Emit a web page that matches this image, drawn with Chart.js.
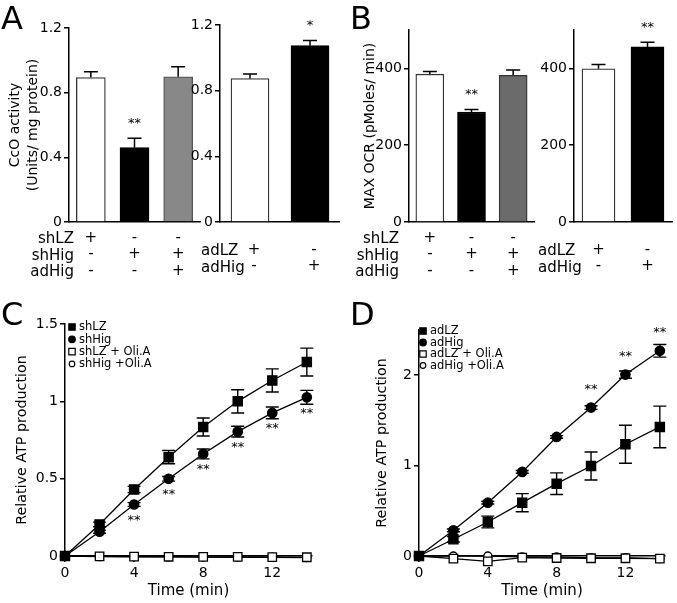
<!DOCTYPE html>
<html>
<head>
<meta charset="utf-8">
<script src="https://cdn.jsdelivr.net/npm/chart.js@4.4.0/dist/chart.umd.min.js"></script>
<style>
  body { margin: 0; background: #fff; }
  #fig { position: relative; width: 677px; height: 603px; overflow: hidden;
         font-family: 'DejaVu Sans', sans-serif; color: #000; }
  canvas { position: absolute; }
  .panel { position: absolute; font-size: 32px; line-height: 32px; }
  .row { position: absolute; font-size: 15px; line-height: 16px; white-space: nowrap; }
</style>
</head>
<body>
<div id="fig"></div>
<script>
// ---- data: panel A (CcO activity) ----
const shRows = ['shLZ', 'shHig', 'adHig'];
const shCols = [['+', '-', '-'], ['-', '+', '-'], ['-', '+', '+']];
const adRows = ['adLZ', 'adHig'];
const adCols = [['+', '-'], ['-', '+']];

const ccoSh = [0.894, 0.46, 0.898];
const ccoShErr = [0.035, 0.058, 0.062];
const ccoShSig = ['', '**', ''];
const ccoAd = [0.874, 1.074];
const ccoAdErr = [0.028, 0.031];
const ccoAdSig = ['', '*'];

// ---- panel B (max OCR) ----
const ocrSh = [385, 286, 382];
const ocrShErr = [7, 7, 14];
const ocrShSig = ['', '**', ''];
const ocrAd = [399, 456];
const ocrAdErr = [11, 12];
const ocrAdSig = ['', '**'];

// ---- panels C / D (relative ATP production) ----
const timeMin = [0, 2, 4, 6, 8, 10, 12, 14];

const shLZ = [0, 0.204, 0.43, 0.639, 0.834, 1.0, 1.135, 1.254];
const shLZErr = [0, 0.015, 0.02, 0.043, 0.058, 0.075, 0.075, 0.09];
const shHig = [0, 0.157, 0.333, 0.499, 0.66, 0.804, 0.925, 1.026];
const shHigErr = [0, 0.01, 0.012, 0.015, 0.032, 0.035, 0.038, 0.045];
const shHigSig = ['', '', '**', '**', '**', '**', '**', '**'];
const shLZOli = [0, -0.003, -0.004, -0.005, -0.006, -0.006, -0.007, -0.008];
const shHigOli = [0, -0.004, -0.005, -0.006, -0.007, -0.008, -0.008, -0.01];

const adLZ = [0, 0.185, 0.376, 0.59, 0.80, 0.996, 1.236, 1.428];
const adLZErr = [0, 0.03, 0.065, 0.1, 0.12, 0.155, 0.21, 0.23];
const adHig = [0, 0.284, 0.59, 0.93, 1.317, 1.642, 2.007, 2.27];
const adHigErr = [0, 0.015, 0.015, 0.015, 0.015, 0.02, 0.04, 0.07];
const adHigSig = ['', '', '', '', '', '**', '**', '**'];
const adLZOli = [0, -0.03, -0.06, -0.018, -0.022, -0.025, -0.025, -0.03];
const adHigOli = [0, 0, 0, -0.01, -0.01, -0.02, -0.02, -0.03];

const FONT = "'DejaVu Sans', sans-serif";
Chart.defaults.font.family = FONT;
Chart.defaults.color = '#000';

const fig = document.getElementById('fig');

function makeCanvas(box) {
    const c = document.createElement('canvas');
    c.width = box.w;
    c.height = box.h;
    c.style.left = box.x + 'px';
    c.style.top = box.y + 'px';
    fig.appendChild(c);
    return c;
}

// work out padding / axis sizes so the plot area lands where it should
function frame(box, area) {
    return {
        padding: { left: 0, top: area.t - box.y, right: box.x + box.w - area.r, bottom: 0 },
        yW: area.l - box.x,
        xH: box.y + box.h - area.b
    };
}

function addText(cls, text, css) {
    const d = document.createElement('div');
    d.className = cls;
    d.textContent = text;
    Object.assign(d.style, css);
    fig.appendChild(d);
}

// error bars (upper only) and significance marks on bar charts
const barExtras = {
    id: 'barExtras',
    afterDatasetsDraw(chart) {
        const { ctx } = chart;
        const ds = chart.data.datasets[0];
        const y = chart.scales.y;
        ctx.save();
        ctx.strokeStyle = '#000';
        ctx.lineWidth = 1.5;
        ctx.fillStyle = '#000';
        ctx.font = '13px ' + FONT;
        ctx.textAlign = 'center';
        ctx.textBaseline = 'middle';
        chart.getDatasetMeta(0).data.forEach((bar, i) => {
            const top = y.getPixelForValue(ds.data[i] + ds.errors[i]);
            ctx.beginPath();
            ctx.moveTo(bar.x, bar.y);
            ctx.lineTo(bar.x, top);
            ctx.moveTo(bar.x - 7, top);
            ctx.lineTo(bar.x + 7, top);
            ctx.stroke();
            if (ds.marks[i]) ctx.fillText(ds.marks[i], bar.x, top - 15);
        });
        ctx.restore();
    }
};

// error bars, significance marks and the inset legend on line charts
const lineExtras = {
    id: 'lineExtras',
    beforeDatasetsDraw(chart) {
        const { ctx } = chart;
        const y = chart.scales.y;
        ctx.save();
        ctx.strokeStyle = '#000';
        ctx.lineWidth = 1.4;
        chart.data.datasets.forEach((ds, di) => {
            if (!ds.errors) return;
            chart.getDatasetMeta(di).data.forEach((pt, i) => {
                const e = ds.errors[i];
                if (!e) return;
                const v = ds.data[i].y;
                const hi = y.getPixelForValue(v + e);
                const lo = y.getPixelForValue(v - e);
                ctx.beginPath();
                ctx.moveTo(pt.x, lo); ctx.lineTo(pt.x, hi);
                ctx.moveTo(pt.x - 6.5, hi); ctx.lineTo(pt.x + 6.5, hi);
                ctx.moveTo(pt.x - 6.5, lo); ctx.lineTo(pt.x + 6.5, lo);
                ctx.stroke();
            });
        });
        ctx.restore();
    },
    afterDatasetsDraw(chart, args, opts) {
        const { ctx, chartArea } = chart;
        ctx.save();
        ctx.fillStyle = '#000';
        ctx.font = '13px ' + FONT;
        ctx.textAlign = 'center';
        ctx.textBaseline = 'middle';
        chart.data.datasets.forEach((ds, di) => {
            if (!ds.marks) return;
            chart.getDatasetMeta(di).data.forEach((pt, i) => {
                if (ds.marks[i]) ctx.fillText(ds.marks[i], pt.x, pt.y + opts.markOffset);
            });
        });

        // legend
        ctx.font = '11.5px ' + FONT;
        ctx.textAlign = 'left';
        ctx.lineWidth = 1.2;
        ctx.strokeStyle = '#000';
        chart.data.datasets.forEach((ds, i) => {
            const mx = chartArea.left + opts.legendX;
            const my = chartArea.top + opts.legendY + i * opts.legendRow;
            ctx.fillStyle = ds.pointBackgroundColor;
            ctx.beginPath();
            if (ds.pointStyle === 'rect') ctx.rect(mx - 3.2, my - 3.2, 6.4, 6.4);
            else ctx.arc(mx, my, ds.pointBackgroundColor === '#000' ? 3.3 : 2.8, 0, Math.PI * 2);
            ctx.fill();
            ctx.stroke();
            ctx.fillStyle = '#000';
            ctx.fillText(ds.label, mx + 7, my + 0.5);
        });
        ctx.restore();
    }
};

function barChart(box, area, o) {
    const f = frame(box, area);
    return new Chart(makeCanvas(box), {
        type: 'bar',
        data: {
            labels: o.cols,
            datasets: [{
                data: o.values,
                errors: o.errors,
                marks: o.sig,
                backgroundColor: o.colors,
                borderColor: o.borders,
                borderWidth: 1.3,
                barThickness: o.barW
            }]
        },
        options: {
            responsive: false,
            animation: false,
            layout: { padding: f.padding },
            plugins: { legend: { display: false }, tooltip: { enabled: false } },
            scales: {
                x: {
                    grid: { display: false, drawTicks: false },
                    border: { color: '#000', width: 1.5 },
                    ticks: { color: '#000', font: { size: 15, lineHeight: 1.1 }, padding: o.tickPad,
                             labelOffset: o.labelOffset || 0, autoSkip: false, maxRotation: 0 },
                    afterFit: s => { s.height = f.xH; }
                },
                y: {
                    min: 0,
                    max: o.max,
                    ticks: { stepSize: o.step, includeBounds: false, color: '#000', font: { size: 14 }, padding: 2 },
                    grid: { drawOnChartArea: false, tickLength: 5, color: '#000', lineWidth: 1.5 },
                    border: { color: '#000', width: 1.5 },
                    title: o.title
                        ? { display: true, text: o.title, color: '#000',
                            font: { size: 14, lineHeight: 1.286 }, padding: { top: o.titlePad, bottom: 0 } }
                        : { display: false },
                    afterFit: s => { s.width = f.yW; }
                }
            }
        },
        plugins: [barExtras]
    });
}

function series(label, values, style, filled, errors, marks) {
    return {
        label: label,
        data: timeMin.map((t, i) => ({ x: t, y: values[i] })),
        errors: errors,
        marks: marks,
        borderColor: '#000',
        borderWidth: 1.3,
        pointStyle: style,
        pointRadius: style === 'rect' ? (filled ? 6.5 : 6) : (filled ? 4.7 : 4),
        pointBackgroundColor: filled ? '#000' : '#fff',
        pointBorderColor: '#000',
        pointBorderWidth: 1.3,
        fill: false,
        tension: 0,
        clip: false
    };
}

function lineChart(box, area, o) {
    const f = frame(box, area);
    return new Chart(makeCanvas(box), {
        type: 'line',
        data: { datasets: o.datasets },
        options: {
            responsive: false,
            animation: false,
            layout: { padding: f.padding },
            plugins: {
                legend: { display: false },
                tooltip: { enabled: false },
                lineExtras: o.extras
            },
            scales: {
                x: {
                    type: 'linear',
                    min: 0,
                    max: 14.3,
                    ticks: { stepSize: 4, includeBounds: false, color: '#000', font: { size: 14 }, padding: 3 },
                    grid: { drawOnChartArea: false, tickLength: 6, color: '#000', lineWidth: 1.5 },
                    border: { color: '#000', width: 1.5 },
                    title: { display: true, text: 'Time (min)', color: '#000',
                             font: { size: 15, lineHeight: 1.2 }, padding: { top: 0, bottom: 3 } },
                    afterFit: s => { s.height = f.xH; }
                },
                y: {
                    min: 0,
                    max: o.max,
                    ticks: { stepSize: o.step, includeBounds: false, color: '#000', font: { size: 14 }, padding: 2,
                             callback: v => String(v) },
                    grid: { drawOnChartArea: false, tickLength: 5, color: '#000', lineWidth: 1.5 },
                    border: { color: '#000', width: 1.5 },
                    title: { display: true, text: 'Relative ATP production', color: '#000',
                             font: { size: 14.3, lineHeight: 1.2 }, padding: { top: o.titlePad, bottom: 0 } },
                    afterFit: s => { s.width = f.yW; }
                }
            }
        },
        plugins: [lineExtras]
    });
}

// ---- A ----
barChart({ x: 0, y: 0, w: 202, h: 290 }, { l: 69, t: 28, r: 200, b: 222 }, {
    cols: shCols, values: ccoSh, errors: ccoShErr, sig: ccoShSig,
    colors: ['#fff', '#000', '#888'], borders: ['#333', '#000', '#555'],
    barW: 29, max: 1.2, step: 0.4, tickPad: 7.75,
    title: ['CcO activity', '(Units/ mg protein)'], titlePad: 6
});
barChart({ x: 186, y: 0, w: 154, h: 290 }, { l: 220, t: 25, r: 340, b: 222 }, {
    cols: adCols, values: ccoAd, errors: ccoAdErr, sig: ccoAdSig,
    colors: ['#fff', '#000'], borders: ['#333', '#000'],
    barW: 38, max: 1.2, step: 0.4, tickPad: 19.75, labelOffset: 4
});

// ---- B ----
barChart({ x: 345, y: 0, w: 192, h: 290 }, { l: 409, t: 30, r: 534, b: 222 }, {
    cols: shCols, values: ocrSh, errors: ocrShErr, sig: ocrShSig,
    colors: ['#fff', '#000', '#6b6b6b'], borders: ['#333', '#000', '#333'],
    barW: 28, max: 500, step: 200, tickPad: 7.75,
    title: 'MAX OCR (pMoles/ min)', titlePad: 16.6
});
barChart({ x: 535, y: 0, w: 142, h: 290 }, { l: 574, t: 30, r: 672, b: 222 }, {
    cols: adCols, values: ocrAd, errors: ocrAdErr, sig: ocrAdSig,
    colors: ['#fff', '#000'], borders: ['#333', '#000'],
    barW: 33, max: 500, step: 200, tickPad: 19.75
});

// ---- C ----
lineChart({ x: 0, y: 296, w: 330, h: 307 }, { l: 65, t: 324, r: 312, b: 556 }, {
    max: 1.5, step: 0.5, titlePad: 13.6,
    extras: { markOffset: 16, legendX: 7, legendY: 3, legendRow: 12.3 },
    datasets: [
        series('shLZ', shLZ, 'rect', true, shLZErr),
        series('shHig', shHig, 'circle', true, shHigErr, shHigSig),
        series('shLZ + Oli.A', shLZOli, 'rect', false),
        series('shHig +Oli.A', shHigOli, 'circle', false)
    ]
});

// ---- D ----
lineChart({ x: 340, y: 296, w: 337, h: 307 }, { l: 419, t: 330, r: 665, b: 556 }, {
    max: 2.5, step: 1, titlePad: 33.6,
    extras: { markOffset: -18, legendX: 4, legendY: 1, legendRow: 11.5 },
    datasets: [
        series('adLZ', adLZ, 'rect', true, adLZErr),
        series('adHig', adHig, 'circle', true, adHigErr, adHigSig),
        series('adLZ + Oli.A', adLZOli, 'rect', false),
        series('adHig +Oli.A', adHigOli, 'circle', false)
    ]
});

// ---- row captions under the bar charts and panel letters ----
const rowY3 = [238, 254.5, 271];
const rowY2 = [250, 266.5];
shRows.forEach((r, i) => {
    addText('row', r, { right: (677 - 74) + 'px', top: (rowY3[i] - 8) + 'px' });
    addText('row', r, { right: (677 - 399) + 'px', top: (rowY3[i] - 8) + 'px' });
});
adRows.forEach((r, i) => {
    addText('row', r, { left: '201px', top: (rowY2[i] - 8) + 'px' });
    addText('row', r, { left: '538px', top: (rowY2[i] - 8) + 'px' });
});
addText('panel', 'A', { left: '1px', top: '1.5px' });
addText('panel', 'B', { left: '350px', top: '1.5px' });
addText('panel', 'C', { left: '1px', top: '298px' });
addText('panel', 'D', { left: '350px', top: '298px' });
</script>
</body>
</html>
